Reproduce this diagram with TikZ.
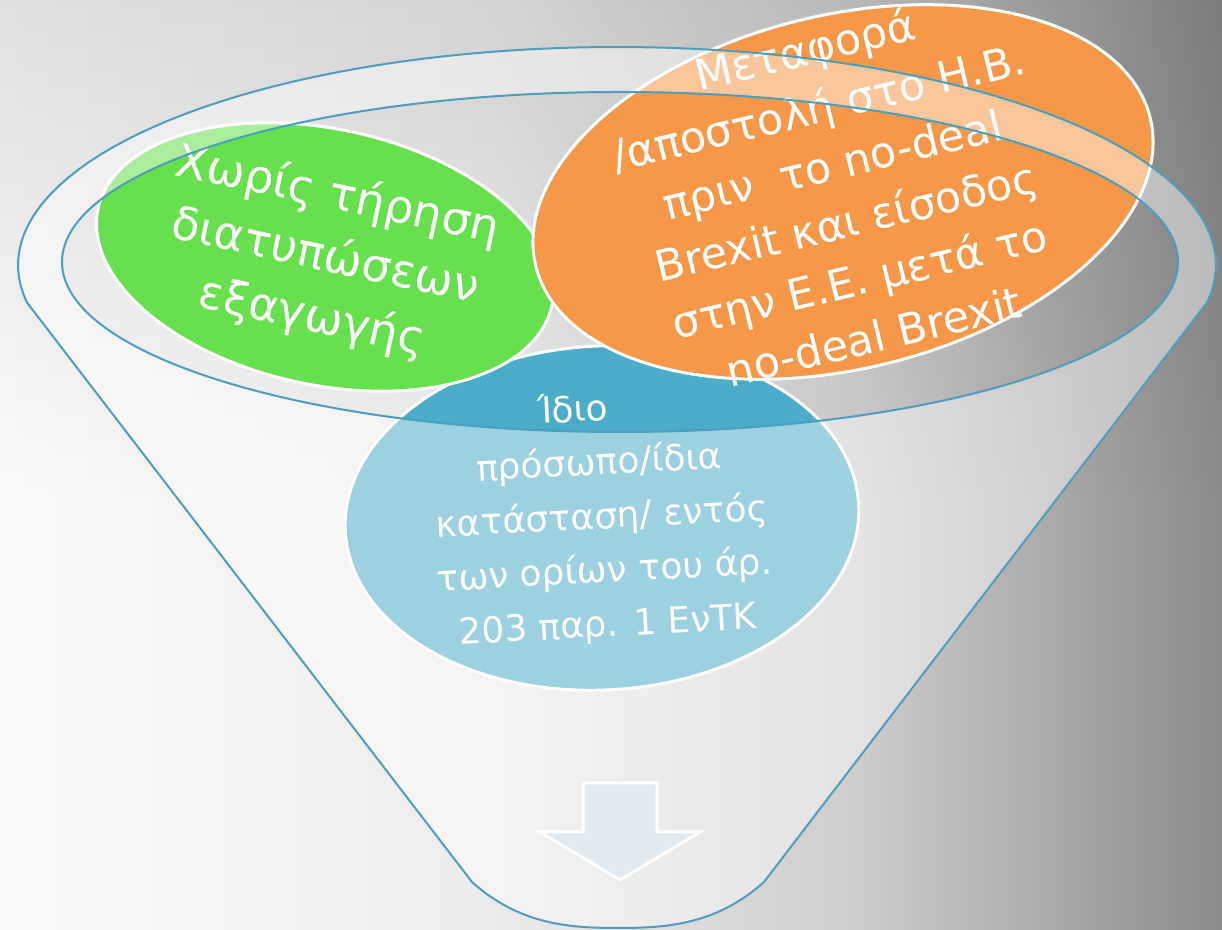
\documentclass[tikz,border=0pt]{standalone}
\usepackage{fontspec}
\setmainfont{DejaVu Sans}
\usetikzlibrary{shapes.geometric,fadings}

\definecolor{funnelline}{RGB}{75,158,190}
\definecolor{greenfill}{RGB}{102,224,76}
\definecolor{orangefill}{RGB}{247,152,72}
\definecolor{bluefill}{RGB}{74,172,200}
\definecolor{arrowfill}{RGB}{226,235,241}
\definecolor{bgA}{RGB}{250,250,250}
\definecolor{bgB}{RGB}{236,236,236}
\definecolor{bgC}{RGB}{205,205,205}
\definecolor{bgD}{RGB}{172,172,172}
\definecolor{bgE}{RGB}{138,138,138}
\pgfdeclarehorizontalshading{backdrop}{100bp}{color(0bp)=(bgA); color(25bp)=(bgA); color(45bp)=(bgB); color(60bp)=(bgC); color(67.5bp)=(bgD); color(75bp)=(bgE); color(100bp)=(bgE)}

\begin{document}
\begin{tikzpicture}[
	x=0.5pt, y=0.5pt,
	bubble/.style={ellipse, draw=white, line width=1.5pt, inner sep=0pt},
	bubbletext/.style={text=white, align=center, inner sep=0pt},
	rim/.style={draw=funnelline, line width=1pt, fill=white, fill opacity=0.45, even odd rule}
	]
	
	% Background
	\shade[shading=backdrop] (0,0) rectangle (1222,930);
	\fill[black, opacity=0.1, path fading=south] (0,430) rectangle (1222,930);
	\useasboundingbox (0,0) rectangle (1222,930);
	
	% Bubbles
	\node[bubble, fill=bluefill, minimum width=257pt, minimum height=172pt, rotate=3] (same) at (602,412) {};
	\node[bubble, fill=greenfill, minimum width=232pt, minimum height=128pt, rotate=-12] (noform) at (325,673) {};
	\node[bubble, fill=orangefill, minimum width=316pt, minimum height=177pt, rotate=13.5] (transit) at (843,738) {};
	
	% Bubble texts
	\node[bubbletext, font=\fontsize{18}{27}\selectfont, rotate=3] (sametext) at (same.center)
		{Ίδιο\hspace*{1.3em}\\πρόσωπο/ίδια\\κατάσταση/ εντός\\των ορίων του άρ.\\203 παρ. 1 ΕνΤΚ};
	\node[bubbletext, font=\fontsize{23}{31}\selectfont, rotate=-12] (noformtext) at (noform.center)
		{Χωρίς τήρηση\\διατυπώσεων\\εξαγωγής};
	\node[bubbletext, font=\fontsize{21.5}{29.5}\selectfont, rotate=13.5] (transittext) at ([xshift=-2pt]transit.center)
		{Μεταφορά\\/αποστολή στο Η.Β.\\πριν\ \ το no-deal\\Brexit και είσοδος\\στην Ε.Ε. μετά το\\no-deal Brexit};
	
	% Funnel
	\path[rim]
		(472,48) .. controls (520,5) and (570,2) .. (618,2)
		.. controls (666,2) and (716,5) .. (764,48)
		-- (1207,627.5)
		-- plot[domain=-9.9:189.9, samples=90] ({617+599*cos(\x)},{665+218*sin(\x)})
		-- cycle
		(620,668) ellipse [x radius=279pt, y radius=85pt];
	
	% Arrow
	\draw[white, line width=1.5pt, fill=arrowfill]
		(583,147) -- (657,147) -- (657,98) -- (700,98) -- (620,50) -- (540,98) -- (583,98) -- cycle;
	
\end{tikzpicture}
\end{document}
